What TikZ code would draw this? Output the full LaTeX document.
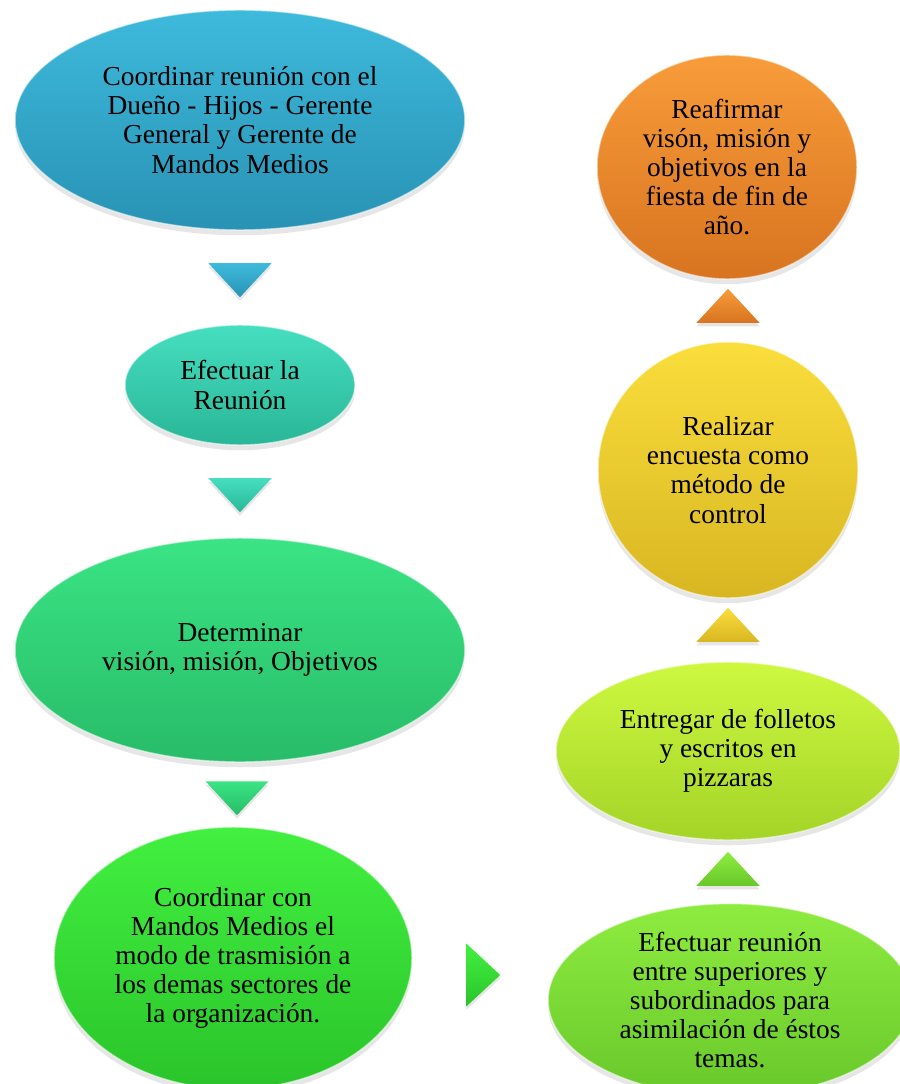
\documentclass[tikz,border=0pt]{standalone}
\usepackage{fontspec}
\setmainfont{Liberation Serif}
\usepackage{tikz}
\usetikzlibrary{shapes.geometric, shadows, positioning}
\definecolor{blutop}{RGB}{62,186,220}
\definecolor{blubot}{RGB}{40,146,180}
\definecolor{teatop}{RGB}{70,222,192}
\definecolor{teabot}{RGB}{42,182,152}
\definecolor{grntop}{RGB}{58,228,132}
\definecolor{grnbot}{RGB}{40,188,104}
\definecolor{lgrtop}{RGB}{66,240,64}
\definecolor{lgrbot}{RGB}{42,196,42}
\definecolor{limtop}{RGB}{142,236,64}
\definecolor{limbot}{RGB}{104,200,42}
\definecolor{yeltop}{RGB}{206,248,64}
\definecolor{yelbot}{RGB}{164,212,40}
\definecolor{goltop}{RGB}{250,222,60}
\definecolor{golbot}{RGB}{216,182,34}
\definecolor{orgtop}{RGB}{248,156,58}
\definecolor{orgbot}{RGB}{216,116,32}
\tikzset{
  stage/.style={ellipse, inner sep=0pt, align=center,
    font=\fontsize{15.6}{16.6}\selectfont,
    draw=white, draw opacity=0.55, line width=0.8pt,
    drop shadow={shadow xshift=0pt, shadow yshift=-3pt, opacity=0.2}},
  tri/.style={isosceles triangle, isosceles triangle stretches, inner sep=0pt,
    minimum width=1.26cm, minimum height=0.68cm,
    drop shadow={shadow xshift=0pt, shadow yshift=-2pt, opacity=0.2}},
  tridown/.style={tri, shape border rotate=270},
  triup/.style={tri, shape border rotate=90},
  triright/.style={tri, shape border rotate=0}
}
\begin{document}
\begin{tikzpicture}[x=0.02cm, y=-0.02cm]
  \useasboundingbox (0,0) rectangle (899,1084);
  % left column
  \node[stage, top color=blutop, bottom color=blubot, minimum width=9cm, minimum height=4.4cm] (e1) at (240,120) {Coordinar reunión con el\\Dueño - Hijos - Gerente\\General y Gerente de\\Mandos Medios};
  \node[tridown, top color=blutop, bottom color=blubot] (t1) at (240,277) {};
  \node[stage, top color=teatop, bottom color=teabot, minimum width=4.6cm, minimum height=2.4cm] (e2) at (240,385) {Efectuar la\\Reunión};
  \node[tridown, top color=teatop, bottom color=teabot] (t2) at (240,492) {};
  \node[stage, top color=grntop, bottom color=grnbot, minimum width=9cm, minimum height=4.48cm] (e3) at (240,650) {Determinar\\visión, misión, Objetivos};
  \node[tridown, top color=grntop, bottom color=grnbot] (t3) at (237,795) {};
  \node[stage, top color=lgrtop, bottom color=lgrbot, minimum width=7.16cm, minimum height=5.24cm] (e4) at (233,958) {Coordinar con\\Mandos Medios el\\modo de trasmisión a\\los demas sectores de\\la organización.};
  \node[triright, top color=lgrtop, bottom color=lgrbot] (t4) at (480,975) {};
  % right column
  \node[stage, top color=limtop, bottom color=limbot, minimum width=7.28cm, minimum height=3.52cm] (e5) at (730,1000) {Efectuar reunión\\entre superiores y\\subordinados para\\asimilación de éstos\\temas.};
  \node[triup, top color=limtop, bottom color=limbot] (t5) at (728,872) {};
  \node[stage, top color=yeltop, bottom color=yelbot, minimum width=6.88cm, minimum height=3.56cm] (e6) at (728,751) {Entregar de folletos\\y escritos en\\pizzaras};
  \node[triup, top color=goltop, bottom color=golbot] (t6) at (728,628) {};
  \node[stage, top color=goltop, bottom color=golbot, minimum width=5.2cm, minimum height=5.12cm] (e7) at (728,470) {Realizar\\encuesta como\\método de\\control};
  \node[triup, top color=orgtop, bottom color=orgbot] (t7) at (728,309) {};
  \node[stage, top color=orgtop, bottom color=orgbot, minimum width=5.2cm, minimum height=4.48cm] (e8) at (727,167) {Reafirmar\\visón, misión y\\objetivos en la\\fiesta de fin de\\año.};
\end{tikzpicture}
\end{document}
